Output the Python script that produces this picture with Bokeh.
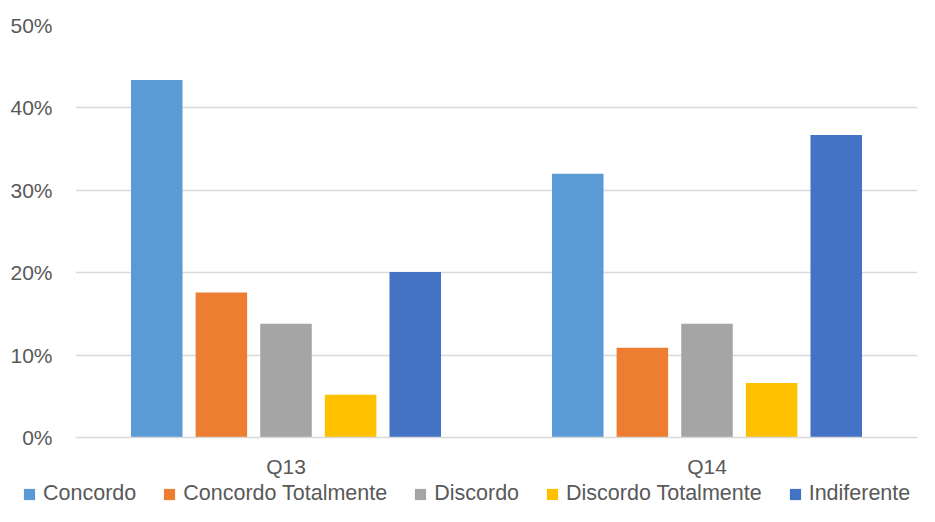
from bokeh.plotting import figure
from bokeh.models import Range1d, FactorRange, Legend, LegendItem, PrintfTickFormatter, FixedTicker
from bokeh.transform import dodge
from bokeh.embed import file_html
from bokeh.resources import INLINE

categories = ["Q13", "Q14"]
series_names = ["Concordo", "Concordo Totalmente", "Discordo", "Discordo Totalmente", "Indiferente"]
concordo = [43.4, 32.0]
concordo_totalmente = [17.6, 10.9]
discordo = [13.8, 13.8]
discordo_totalmente = [5.2, 6.6]
indiferente = [20.1, 36.7]
y_ticks = [0, 10, 20, 30, 40, 50]

colors = ["#5B9BD5", "#ED7D31", "#A5A5A5", "#FFC000", "#4472C4"]
series = [concordo, concordo_totalmente, discordo, discordo_totalmente, indiferente]

FONT = "Liberation Sans"
TXT = "#595959"

p = figure(width=919, height=480, x_range=FactorRange(*categories), y_range=Range1d(0, 50),
           output_backend="svg", toolbar_location=None,
           min_border_left=75, min_border_right=2, min_border_top=25, min_border_bottom=39)
p.outline_line_color = None

data = {"cat": categories}
for i, s in enumerate(series):
    data[f"s{i}"] = s

bw = 0.1224
step = 0.1535
for i, col in enumerate(colors):
    p.vbar(x=dodge("cat", (i - 2) * step, range=p.x_range), top=f"s{i}", width=bw,
           source=data, fill_color=col, line_color=None)

p.yaxis.ticker = FixedTicker(ticks=y_ticks)
p.yaxis.formatter = PrintfTickFormatter(format="%d%%")
p.yaxis.axis_line_color = None
p.yaxis.major_tick_line_color = None
p.yaxis.minor_tick_line_color = None
p.yaxis.major_tick_out = 0
p.yaxis.major_label_standoff = 23
p.yaxis.major_label_text_font = FONT
p.yaxis.major_label_text_font_size = "21px"
p.yaxis.major_label_text_color = TXT

p.xaxis.axis_line_color = "#D9D9D9"
p.xaxis.axis_line_width = 1.5
p.xaxis.major_tick_line_color = None
p.xaxis.minor_tick_line_color = None
p.xaxis.major_tick_out = 0
p.xaxis.major_label_standoff = 17
p.xaxis.major_label_text_font = FONT
p.xaxis.major_label_text_font_size = "21px"
p.xaxis.major_label_text_color = TXT

p.xgrid.grid_line_color = None
p.ygrid.grid_line_color = "#D9D9D9"
p.ygrid.grid_line_width = 1.5

# legend strip below the chart (separate root, no frame alignment)
lf = figure(width=919, height=26, x_range=Range1d(0, 1), y_range=Range1d(0, 1),
            output_backend="svg", toolbar_location=None,
            x_axis_location=None, y_axis_location=None,
            min_border_left=0, min_border_right=0, min_border_top=0, min_border_bottom=0)
lf.grid.visible = False
lf.outline_line_color = None

items = []
for name, col in zip(series_names, colors):
    # zero-size swatch carriers: only their legend glyphs are seen
    r = lf.vbar(x=[0.5], top=[0], bottom=[0], width=0, fill_color=col, line_color=None)
    items.append(LegendItem(label=name, renderers=[r]))

legend = Legend(items=items, orientation="horizontal", location=(22, 0),
                glyph_width=14, glyph_height=14, label_standoff=7, spacing=26,
                padding=0, margin=0, border_line_color=None, background_fill_alpha=0,
                label_text_font=FONT, label_text_font_size="21.5px", label_text_color=TXT)
lf.add_layout(legend)

open("out.html", "w").write(file_html([p, lf], INLINE))
